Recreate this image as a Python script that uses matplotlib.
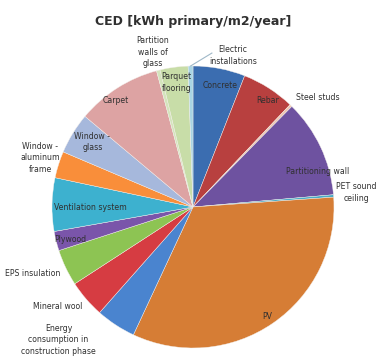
import numpy as np
import matplotlib
matplotlib.use("Agg")
import matplotlib.pyplot as plt

# CED shares per building component (kWh primary/m2/year)
components = [
    "Concrete", "Rebar", "Steel studs", "Partitioning wall", "PET sound\nceiling",
    "PV", "Energy\nconsumption in\nconstruction phase", "Mineral wool",
    "EPS insulation", "Plywood", "Ventilation system", "Window -\naluminum\nframe",
    "Window -\nglass", "Carpet", "Partition\nwalls of\nglass", "Parquet\nflooring",
    "Electric\ninstallations",
]
ced = [2.15, 2.2, 0.1, 4.05, 0.1, 11.9, 1.65, 1.55, 1.5, 0.8, 2.2, 1.1,
       1.7, 3.5, 0.15, 1.15, 0.2]
colors = [
    "#3b6db0", "#b8403f", "#efc6b0", "#6e52a0", "#4bacc6", "#d67d35",
    "#4a84cf", "#d63c42", "#8dc453", "#7a55aa", "#3db1cf", "#f98e3a",
    "#a6b8dc", "#dda3a3", "#d4e4bc", "#c8dda8", "#a8d4e4",
]

# label placement: (angle clockwise from 12 o'clock, radius in pie units)
label_place = [
    (12.5, 0.88), (35, 0.92), (48.7, 1.18), (74, 0.92), (85, 1.165),
    (146, 0.94), (225.4, 1.34), (233.5, 1.19), (247.3, 1.23), (255, 0.90),
    (270, 0.73), (287.8, 1.14), (303, 0.85), (324, 0.93), (345.5, 1.135),
    (352.3, 0.89), (14.7, 1.11),
]

R = 141.0  # pie radius in pixels
cx, cy = 193.0, 207.0
W, H = 383, 361

fig = plt.figure(figsize=(W / 100, H / 100), dpi=100)
ax = fig.add_axes([0, 0, 1, 1])

ax.pie(ced, colors=colors, startangle=90, counterclock=False, radius=1.0,
       wedgeprops=dict(linewidth=0.3, edgecolor="#f4f0ec"))
ax.set_xlim(-cx / R, (W - cx) / R)
ax.set_ylim(-(H - cy) / R, cy / R)
ax.set_aspect("auto")
ax.axis("off")

def polar(angle, r):
    a = np.deg2rad(angle)
    return r * np.sin(a), r * np.cos(a)

for name, (ang, r) in zip(components, label_place):
    x, y = polar(ang, r)
    ax.text(x, y, name, ha="center", va="center", fontsize=5.6,
            color="#303030", linespacing=1.35)

# leader line for the tiny electric installations slice
total = sum(ced)
mid = 360 - ced[-1] / total * 360 / 2
x0, y0 = polar(mid, 1.0)
x1, y1 = polar(7, 1.1)
ax.plot([x0, x1], [y0, y1], color="#9fb8c8", lw=0.8)

fig.text(0.504, 1 - 22 / H, "CED [kWh primary/m2/year]", ha="center", va="center",
         fontsize=9, fontweight="bold", color="#303030")

fig.savefig("out.png", dpi=100)
